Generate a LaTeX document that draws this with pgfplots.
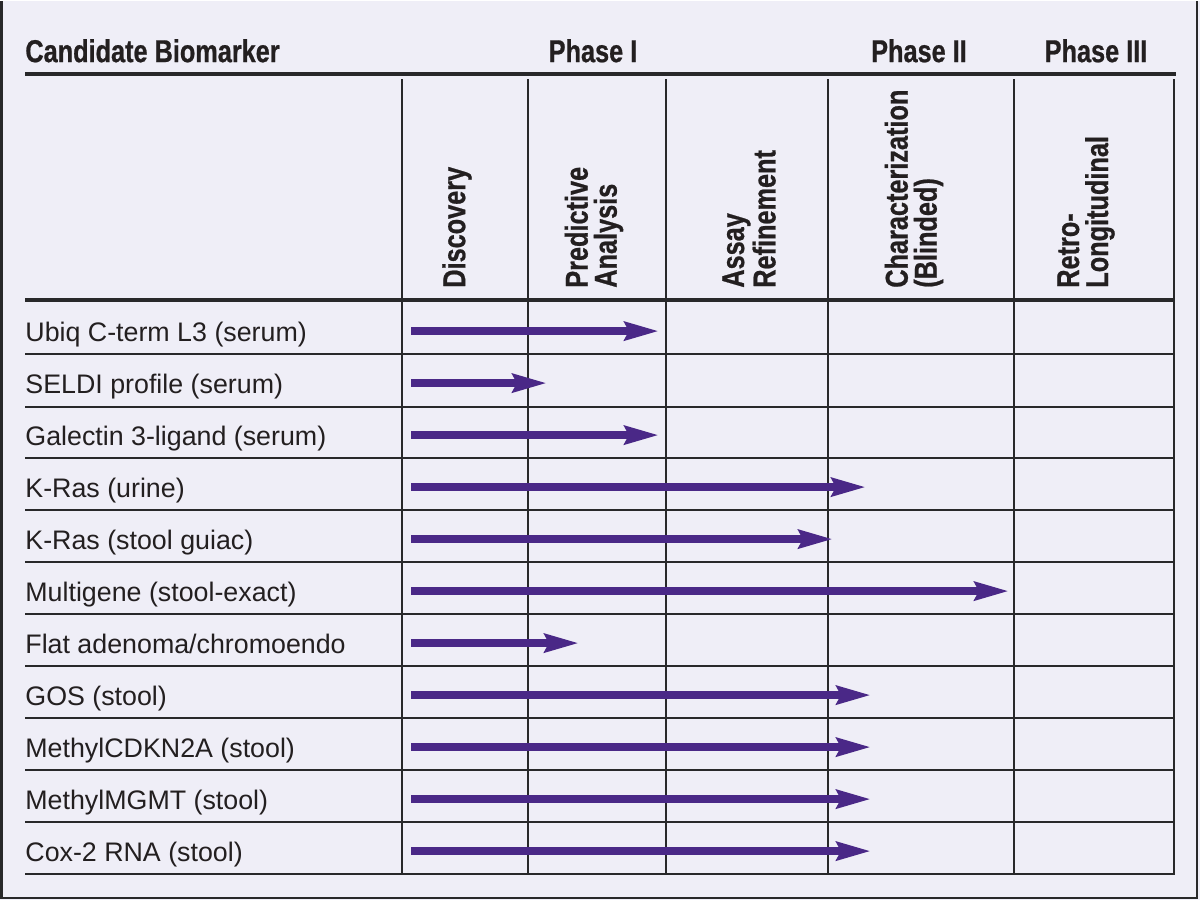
\documentclass[border=0pt]{standalone}
\usepackage{pgfplots}
\pgfplotsset{compat=1.18}
\usepackage{fontspec}
\setmainfont{Liberation Sans}
\newfontfamily\cond{Liberation Sans}[FakeStretch=0.8,FakeBold=0.7]
\usetikzlibrary{arrows.meta}
\definecolor{bg}{RGB}{239,238,247}
\definecolor{ln}{RGB}{40,40,42}
\definecolor{arr}{RGB}{74,40,135}
\definecolor{txt}{RGB}{35,31,32}
\begin{document}
\begin{tikzpicture}
\begin{axis}[width=600pt,height=449.5pt,scale only axis,
  xmin=0,xmax=1200,ymin=0,ymax=899,y dir=reverse,hide axis,clip=false]
\fill[bg] (axis cs:0,0) rectangle (axis cs:1200,899);
% outer border
\draw[ln,line width=1.1pt] (axis cs:1.5,0) -- (axis cs:1.5,897) -- (axis cs:1197,897) -- (axis cs:1197,0);
% thick rules
\draw[ln,line width=1.8pt] (axis cs:25,73) -- (axis cs:1176,73);
\draw[ln,line width=1.8pt] (axis cs:25,299) -- (axis cs:1175,299);
% row rules
\pgfplotsinvokeforeach{353,406,457,509,561,613,665,717,769,821,873}{
  \draw[ln,line width=1pt] (axis cs:25,#1) -- (axis cs:1175,#1);
}
% column rules
\pgfplotsinvokeforeach{402,528,666,828,1014,1174}{
  \draw[ln,line width=1pt] (axis cs:#1,78) -- (axis cs:#1,873.5);
}
% headers
\node[anchor=base west,inner sep=0,text=txt,font=\cond\bfseries\fontsize{15.8}{16}\selectfont] at (axis cs:25,61) {Candidate Biomarker};
\node[anchor=base,inner sep=0,text=txt,font=\cond\bfseries\fontsize{15.8}{16}\selectfont] at (axis cs:593,61) {Phase I};
\node[anchor=base,inner sep=0,text=txt,font=\cond\bfseries\fontsize{15.8}{16}\selectfont] at (axis cs:919,61) {Phase II};
\node[anchor=base,inner sep=0,text=txt,font=\cond\bfseries\fontsize{15.8}{16}\selectfont] at (axis cs:1096,61) {Phase III};
% rotated column headers
\tikzset{colhead/.style={rotate=90,anchor=west,inner sep=0,align=left,text=txt,font=\cond\bfseries\fontsize{15.8}{14.5}\selectfont}}
\node[colhead] at (axis cs:457,287) {Discovery};
\node[colhead] at (axis cs:594,287) {Predictive\\Analysis};
\node[colhead] at (axis cs:749,287) {Assay\\Refinement};
\node[colhead] at (axis cs:914,287) {Characterization\\(Blinded)};
\node[colhead] at (axis cs:1086,287) {Retro-\\Longitudinal};
% row labels
\tikzset{rowlab/.style={anchor=base west,inner sep=0,text=txt,font=\fontsize{13.4}{15}\selectfont}}
\node[rowlab] at (axis cs:25,340) {Ubiq C-term L3 (serum)};
\node[rowlab] at (axis cs:25,392) {SELDI profile (serum)};
\node[rowlab] at (axis cs:25,444) {Galectin 3-ligand (serum)};
\node[rowlab] at (axis cs:25,496) {K-Ras (urine)};
\node[rowlab] at (axis cs:25,548) {K-Ras (stool guiac)};
\node[rowlab] at (axis cs:25,600) {Multigene (stool-exact)};
\node[rowlab] at (axis cs:25,652) {Flat adenoma/chromoendo};
\node[rowlab] at (axis cs:25,704) {GOS (stool)};
\node[rowlab] at (axis cs:25,756) {MethylCDKN2A (stool)};
\node[rowlab] at (axis cs:25,808) {MethylMGMT (stool)};
\node[rowlab] at (axis cs:25,860) {Cox-2 RNA (stool)};
% arrows (progress)
\pgfplotsset{prog/.style={arr,line width=4.2pt,-{Stealth[length=17pt,width=9pt,inset=2pt]}}}
\addplot[prog] coordinates {(411,330) (659,330)};
\addplot[prog] coordinates {(411,382) (547,382)};
\addplot[prog] coordinates {(411,434) (659,434)};
\addplot[prog] coordinates {(411,486) (866,486)};
\addplot[prog] coordinates {(411,538) (833,538)};
\addplot[prog] coordinates {(411,590) (1009,590)};
\addplot[prog] coordinates {(411,642) (579,642)};
\addplot[prog] coordinates {(411,694) (871,694)};
\addplot[prog] coordinates {(411,746) (871,746)};
\addplot[prog] coordinates {(411,798) (871,798)};
\addplot[prog] coordinates {(411,850) (871,850)};
\end{axis}
\end{tikzpicture}
\end{document}
